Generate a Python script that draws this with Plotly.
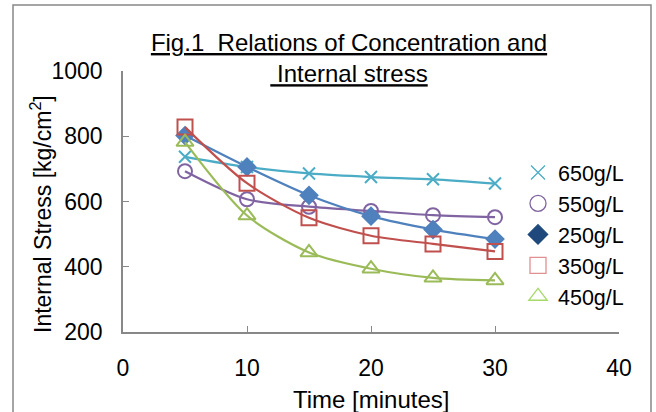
import plotly.graph_objects as go

time_min = [5, 10, 15, 20, 25, 30]
series_names = ["650g/L", "550g/L", "250g/L", "350g/L", "450g/L"]
s650 = [737, 706, 686, 675, 668, 655]
s550 = [693, 607, 584, 571, 558, 552]
s250 = [802, 706, 619, 555, 514, 485]
s350 = [828, 656, 550, 495, 470, 447]
s450 = [782, 557, 444, 394, 366, 358]
x_ticks = [0, 10, 20, 30, 40]
y_ticks = [200, 400, 600, 800, 1000]

values = [s650, s550, s250, s350, s450]
line_colors = ["#4BACC6", "#8064A2", "#4F81BD", "#C0504D", "#9BBB59"]
symbols = ["x-thin", "circle-open", "diamond", "square-open", "triangle-up-open"]
sizes = [12, 14, 13, 15, 15]
legend_colors = ["#4BACC6", "#8064A2", "#1F497D", "#E0908F", "#A6D96A"]

FONT = "Liberation Sans, Arial, sans-serif"
fig = go.Figure()

for name, vals, col, sym, sz in zip(series_names, values, line_colors, symbols, sizes):
    fig.add_trace(go.Scatter(
        x=time_min, y=vals, mode="lines+markers", name=name, showlegend=False,
        line=dict(color=col, width=2.2, shape="spline", smoothing=0.8),
        marker=dict(symbol=sym, size=sz, color=col, line=dict(color=col, width=2)),
    ))

for name, col, sym, sz in zip(series_names, legend_colors, symbols, sizes):
    fig.add_trace(go.Scatter(
        x=[None], y=[None], mode="markers", name=name, showlegend=True,
        marker=dict(symbol=sym, size=sz + 2, color=col, line=dict(color=col, width=1.3)),
    ))

W, H = 656, 412
L, R, T, B = 123, 37, 71, 80
pw, ph = W - L - R, H - T - B

def px_x(p):
    return (p - L) / pw

def px_y(p):
    return (H - B - p) / ph

fig.update_layout(
    width=W, height=H,
    margin=dict(l=L, r=R, t=T, b=B, autoexpand=False),
    paper_bgcolor="white", plot_bgcolor="white",
    font=dict(family=FONT, size=23, color="black"),
    title=dict(
        text="<u>Fig.1&nbsp;&nbsp;Relations of Concentration and</u><br><u>&nbsp;Internal stress</u>",
        x=349 / W, xanchor="center", y=1 - 51 / H, yanchor="top",
        font=dict(family=FONT, size=24, color="black"),
    ),
    xaxis=dict(
        range=[0, 40], tickvals=x_ticks, ticks="inside", ticklen=6, tickcolor="#888",
        showline=True, linecolor="#888", linewidth=1.5, showgrid=False, zeroline=False,
        ticklabelstandoff=15, automargin=False,
    ),
    yaxis=dict(
        range=[200, 1000], tickvals=y_ticks, ticks="inside", ticklen=6, tickcolor="#888",
        showline=True, linecolor="#888", linewidth=1.5, showgrid=False, zeroline=False,
        ticklabelstandoff=14, automargin=False,
    ),
    annotations=[
        dict(
            text="Internal Stress [kg/cm<sup>2</sup>]", textangle=-90,
            xref="paper", yref="paper", x=px_x(41), y=px_y(214),
            xanchor="center", yanchor="middle", showarrow=False,
            font=dict(family=FONT, size=23, color="black"),
        ),
        dict(
            text="Time [minutes]",
            xref="paper", yref="paper", x=0.5, y=px_y(399),
            xanchor="center", yanchor="middle", showarrow=False,
            font=dict(family=FONT, size=24, color="black"),
        ),
    ],
    legend=dict(
        x=px_x(518), xanchor="left", y=px_y(152), yanchor="top",
        font=dict(size=21.5), bgcolor="rgba(0,0,0,0)", tracegroupgap=0, itemwidth=30,
    ),
    shapes=[dict(
        type="rect", xref="paper", yref="paper",
        x0=px_x(13), x1=px_x(651), y0=px_y(430), y1=px_y(5),
        line=dict(color="#888", width=1.5), fillcolor="rgba(0,0,0,0)", layer="below",
    )],
)

fig.write_html(
    "out.html",
    config={"displayModeBar": False},
    post_script="document.body.style.margin='0';document.body.style.overflow='hidden';",
)
